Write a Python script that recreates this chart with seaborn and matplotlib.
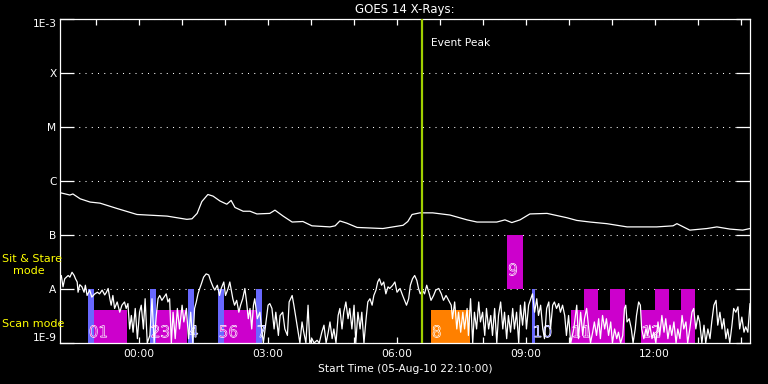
import numpy as np
import pandas as pd
import matplotlib
matplotlib.use("Agg")
import matplotlib.pyplot as plt
import matplotlib.patheffects as pe
from matplotlib.ticker import NullLocator
import seaborn as sns

# ---------------- data (time = hours since 05-Aug-10 22:10:00) ----------------
START = "2010-08-05 22:10:00"
END_HOURS = 16.05

# long channel (upper curve), log10 flux (W/m^2)
long_t = [0.02, 0.23, 0.30, 0.47, 0.70, 0.93, 1.33, 1.79, 2.49, 2.95, 3.07, 3.19, 3.30,
          3.44, 3.56, 3.72, 3.88, 3.98, 4.07, 4.26, 4.42, 4.58, 4.88, 5.00, 5.19, 5.40,
          5.65, 5.86, 6.28, 6.40, 6.51, 6.67, 6.91, 7.51, 7.98, 8.09, 8.19, 8.37, 8.67,
          9.07, 9.47, 9.70, 10.16, 10.35, 10.51, 10.70, 10.93, 11.33, 11.79, 12.02, 12.33,
          12.72, 13.19, 13.49, 13.88, 14.26, 14.35, 14.65, 15.05, 15.28, 15.58, 15.88, 16.05]
long_log = [-6.22, -6.26, -6.24, -6.33, -6.39, -6.41, -6.51, -6.62, -6.65, -6.71, -6.70, -6.60, -6.38,
            -6.25, -6.28, -6.37, -6.43, -6.36, -6.49, -6.56, -6.56, -6.61, -6.60, -6.54, -6.65, -6.76,
            -6.75, -6.83, -6.85, -6.83, -6.74, -6.78, -6.86, -6.88, -6.82, -6.75, -6.62, -6.59, -6.59,
            -6.63, -6.72, -6.76, -6.76, -6.72, -6.77, -6.72, -6.61, -6.60, -6.68, -6.73, -6.76,
            -6.79, -6.85, -6.85, -6.85, -6.83, -6.79, -6.91, -6.88, -6.85, -6.89, -6.91, -6.88]

# short channel (lower noisy curve), log10 flux
short_t = [
    0.03, 0.07, 0.11, 0.15, 0.19, 0.23, 0.28, 0.33, 0.36, 0.40,
    0.42, 0.46, 0.51, 0.56, 0.59, 0.63, 0.69, 0.74, 0.81, 0.87,
    0.92, 0.98, 1.04, 1.08, 1.12, 1.16, 1.19, 1.23, 1.27, 1.33,
    1.39, 1.44, 1.50, 1.54, 1.58, 1.62, 1.66, 1.70, 1.75, 1.80,
    1.85, 1.89, 1.94, 1.98, 2.03, 2.09, 2.14, 2.19, 2.24, 2.28,
    2.32, 2.37, 2.42, 2.47, 2.51, 2.55, 2.59, 2.63, 2.68, 2.73,
    2.78, 2.84, 2.88, 2.94, 2.99, 3.04, 3.09, 3.13, 3.17, 3.21,
    3.25, 3.29, 3.34, 3.40, 3.46, 3.50, 3.56, 3.60, 3.66, 3.71,
    3.75, 3.81, 3.85, 3.91, 3.95,
    4.02, 4.06, 4.11, 4.16, 4.20, 4.25, 4.30, 4.34, 4.38, 4.42,
    4.46, 4.50, 4.53, 4.59, 4.65, 4.69, 4.73, 4.79, 4.84, 4.88,
    4.93, 4.98, 5.02, 5.08, 5.12, 5.18, 5.23, 5.29, 5.33, 5.40,
    5.44, 5.49, 5.53, 5.58, 5.63, 5.67, 5.72, 5.77, 5.81, 5.86,
    5.91, 5.98, 6.03, 6.09, 6.14, 6.19, 6.24, 6.28, 6.33, 6.37,
    6.42, 6.47, 6.51, 6.56, 6.60, 6.65, 6.70, 6.74, 6.79, 6.84,
    6.88, 6.93, 6.98, 7.02, 7.07, 7.12, 7.16, 7.21, 7.26, 7.30,
    7.35, 7.39, 7.43, 7.48, 7.53, 7.58, 7.63, 7.67, 7.74, 7.79,
    7.84, 7.91, 7.97,
    8.06, 8.11, 8.15, 8.20, 8.25, 8.30, 8.34,
    8.38, 8.43, 8.48, 8.53, 8.59, 8.63, 8.69, 8.74, 8.81, 8.87,
    8.92, 8.98, 9.04, 9.10, 9.13, 9.18, 9.23, 9.27, 9.32, 9.37,
    9.41, 9.47, 9.50, 9.55, 9.60, 9.64, 9.69, 9.74, 9.78, 9.83,
    9.88, 9.92, 9.97, 10.02, 10.06, 10.11, 10.16, 10.20, 10.25, 10.30,
    10.34, 10.39, 10.43, 10.48, 10.53, 10.57, 10.62, 10.67, 10.71, 10.76,
    10.81, 10.85, 10.90, 10.95, 10.99, 11.04, 11.09, 11.13, 11.18, 11.23,
    11.27, 11.32, 11.37, 11.41, 11.46, 11.50, 11.55, 11.60, 11.64, 11.69,
    11.74, 11.78, 11.83, 11.88,
    11.95, 12.02, 12.06, 12.11, 12.16, 12.20, 12.25, 12.30, 12.34, 12.39,
    12.43, 12.48, 12.53, 12.57, 12.62, 12.67, 12.71, 12.76, 12.81, 12.85,
    12.90, 12.95, 12.99, 13.04, 13.09, 13.13, 13.16, 13.19, 13.24, 13.29,
    13.33, 13.38, 13.41, 13.46, 13.50, 13.53, 13.58, 13.63, 13.67, 13.72,
    13.77, 13.81, 13.86, 13.91, 13.95, 14.00, 14.05, 14.09, 14.14, 14.19,
    14.23, 14.28, 14.33, 14.37, 14.42, 14.47, 14.51, 14.56, 14.60, 14.65,
    14.70, 14.74, 14.79, 14.84, 14.88, 14.93, 14.98, 15.02, 15.07, 15.12,
    15.16, 15.21, 15.26, 15.30, 15.35, 15.40, 15.44, 15.49, 15.53, 15.58,
    15.63, 15.67, 15.72, 15.77, 15.81, 15.86, 15.91, 15.95, 16.00, 16.05]
short_log = [
    -7.75, -7.96, -7.81, -7.78, -7.75, -7.78, -7.69, -7.75, -7.81, -7.87,
    -8.06, -7.92, -7.96, -8.06, -7.93, -8.12, -8.02, -8.15, -8.09, -8.06,
    -8.09, -8.02, -8.11, -8.06, -7.99, -8.18, -8.30, -8.12, -8.36, -8.24,
    -8.43, -8.30, -8.24, -8.36, -8.27, -8.74, -8.49, -8.80, -8.36, -8.92,
    -8.43, -8.30, -8.74, -8.18, -9.00, -8.86, -8.18, -9.00, -8.49, -8.18,
    -8.12, -8.21, -8.15, -8.09, -8.24, -8.18, -9.00, -8.43, -8.92, -8.36,
    -8.74, -8.30, -8.61, -8.36, -8.92, -8.43, -9.00, -8.36, -8.24, -8.09,
    -7.99, -7.90, -7.78, -7.72, -7.74, -7.84, -7.96, -8.02, -7.93, -8.12,
    -7.99, -7.87, -8.12, -7.99, -7.87,
    -8.18, -8.30, -8.21, -8.43, -8.30, -8.18, -7.99, -8.24, -8.55, -8.36,
    -8.74, -8.30, -8.18, -8.55, -8.43, -8.74, -9.00, -8.61, -8.30, -8.27,
    -8.36, -8.74, -8.43, -8.86, -8.49, -8.43, -8.74, -8.86, -8.24, -8.12,
    -8.30, -8.55, -8.74, -9.00, -8.61, -8.80, -9.00, -8.30, -9.00, -8.92,
    -9.00, -8.95, -9.00, -8.80, -8.67, -9.00, -8.80, -8.61, -8.92, -8.74,
    -9.00, -8.49, -8.36, -8.74, -8.43, -8.24, -8.55, -8.36, -8.74, -8.30,
    -9.00, -8.43, -8.74, -8.43, -9.00, -8.55, -8.24, -8.18, -8.30, -8.12,
    -8.02, -7.87, -7.81, -7.93, -7.87, -8.09, -7.96, -7.99, -7.93, -7.87,
    -8.06, -7.99, -8.12,
    -8.30, -8.18, -7.93, -7.81, -7.75, -7.84, -7.99,
    -8.09, -8.02, -8.09, -7.93, -8.09, -8.21, -8.12, -8.02, -7.99, -8.09,
    -8.21, -8.12, -8.21, -8.30, -8.55, -8.24, -8.74, -8.43, -8.80, -8.43,
    -8.74, -8.36, -8.86, -8.18, -9.00, -8.43, -8.74, -8.24, -8.61, -8.43,
    -8.86, -8.36, -8.74, -8.49, -8.86, -8.36, -9.00, -8.49, -8.24, -8.74,
    -8.43, -8.92, -8.49, -8.80, -8.36, -8.74, -8.43, -9.00, -8.30, -8.67,
    -8.24, -8.74, -8.30, -8.18, -8.09, -8.43, -8.18, -8.49, -8.30, -8.74,
    -8.92, -8.36, -8.24, -8.74, -8.30, -8.24, -8.36, -8.27, -8.43, -8.30,
    -8.49, -8.86, -8.49, -9.00,
    -8.74, -8.30, -8.92, -8.43, -8.86, -8.55, -8.36, -8.74, -9.00, -8.80,
    -8.61, -8.86, -8.55, -8.92, -8.49, -8.74, -8.55, -8.86, -8.61, -9.00,
    -8.74, -8.92, -8.80, -9.00, -8.86, -8.36, -8.30, -8.61, -8.55, -8.74,
    -9.00, -8.74, -8.49, -8.24, -8.30, -8.74, -8.92, -8.74, -8.86, -8.67,
    -8.92, -8.80, -9.00, -8.61, -8.86, -8.49, -8.80, -8.55, -8.92, -8.67,
    -8.86, -8.61, -9.00, -8.74, -8.92, -8.49, -8.74, -8.61, -9.00, -8.74,
    -8.43, -8.36, -8.74, -8.49, -8.61, -9.00, -8.67, -9.00, -8.74, -8.92,
    -8.61, -8.30, -8.21, -8.67, -8.43, -8.74, -8.55, -8.92, -8.74, -9.00,
    -8.67, -8.36, -8.43, -8.33, -8.74, -8.52, -8.80, -8.70, -8.80, -8.27]
assert len(short_t) == len(short_log) and len(long_t) == len(long_log)

# observation events
event_start = [0.65, 0.78, 2.09, 2.23, 2.98, 3.67, 3.81, 4.56, 8.63, 10.40, 10.98,
               11.88, 12.19, 12.79, 13.51, 13.84, 14.44]
event_end = [0.78, 1.56, 2.23, 2.95, 3.12, 3.81, 4.56, 4.70, 9.53, 10.77, 11.05,
             13.14, 12.51, 13.14, 14.77, 14.16, 14.77]
event_mode = ["hi", "scan", "hi", "scan", "hi", "hi", "scan", "hi", "scan", "stare", "hi",
              "scan", "hi", "hi", "scan", "hi", "hi"]
event_kind = ["blue", "mag", "blue", "mag", "blue", "blue", "mag", "blue", "orange", "mag", "blue",
              "mag", "mag", "mag", "mag", "mag", "mag"]
event_label = ["0", "1", "2", "3", "4", "5", "6", "7", "8", "9", "10",
               "11", "", "", "12", "", ""]
peak_t = 8.42

y_ticks = [1e-9, 1e-8, 1e-7, 1e-6, 1e-5, 1e-4, 1e-3]
y_labels = ["1E-9", "A", "B", "C", "M", "X", "1E-3"]

# ---------------- styling ----------------
sns.set_theme(style="dark")
plt.rcParams["font.family"] = ["DejaVu Sans"]
W, H = 768, 384
fig = plt.figure(figsize=(W / 100, H / 100), dpi=100, facecolor="black")
ax = fig.add_axes([60 / W, 41 / H, 690 / W, 324 / H])
ax.set_facecolor("black")

colors = {"blue": "#6868ff", "mag": "#cc00cc", "orange": "#ff8000"}
mode_range = {"hi": (1e-9, 1e-8), "scan": (1e-9, 10 ** -8.39), "stare": (1e-8, 1e-7)}

ax.set_yscale("log")
for s, e, m, k in zip(event_start, event_end, event_mode, event_kind):
    lo, hi = mode_range[m]
    ax.bar(s, hi - lo, width=e - s, bottom=lo, align="edge", color=colors[k],
           linewidth=0, zorder=1)

# event numbers: labels of events starting very close together share one text
groups = []
for s, m, k, lab in zip(event_start, event_mode, event_kind, event_label):
    if not lab:
        continue
    if groups and s - groups[-1][0] < 0.2 and groups[-1][1] == ("stare" if m == "stare" else "low"):
        groups[-1][3] += lab
        groups[-1][2] = k
    else:
        groups.append([s, "stare" if m == "stare" else "low", k, lab])
for s, lvl, k, lab in groups:
    yb = 1.6e-8 if lvl == "stare" else 1.14e-9
    ax.text(s + 0.02, yb, lab, color=colors[k], fontsize=11, ha="left", va="bottom",
            zorder=2, fontweight="light",
            path_effects=[pe.Stroke(linewidth=0.9, foreground="white"), pe.Normal()])

df_long = pd.DataFrame({"t": long_t, "flux": 10 ** np.array(long_log)})
df_short = pd.DataFrame({"t": short_t, "flux": 10 ** np.array(short_log)})
sns.lineplot(data=df_long, x="t", y="flux", ax=ax, color="white", lw=0.9,
             estimator=None, sort=False, zorder=3)
sns.lineplot(data=df_short, x="t", y="flux", ax=ax, color="white", lw=0.9,
             estimator=None, sort=False, zorder=3)

ax.axvline(peak_t, color="#a0d000", lw=1.6, zorder=4)
ax.annotate("Event Peak", xy=(peak_t, 1), xycoords=("data", "axes fraction"),
            xytext=(6.5, -17.5), textcoords="offset points", color="white",
            fontsize=7.7, ha="left", va="center")

ax.set_xlim(0, END_HOURS)
ax.set_ylim(1e-9, 1e-3)
ax.set_xlabel("")
ax.set_ylabel("")

# x ticks every hour, labels every 3 hours
start = pd.Timestamp(START)
tick_times = pd.date_range("2010-08-05 23:00", periods=16, freq="h")
tick_pos = [(t - start) / pd.Timedelta(hours=1) for t in tick_times]
tick_lab = [t.strftime("%H:%M") if t.hour % 3 == 0 else "" for t in tick_times]
ax.set_xticks(tick_pos)
ax.set_xticklabels(tick_lab)

ax.set_yticks(y_ticks)
ax.set_yticklabels(y_labels)
ax.yaxis.set_minor_locator(NullLocator())
ax.xaxis.set_minor_locator(NullLocator())
tl = ax.get_yticklabels()
tl[0].set_va("bottom")
tl[-1].set_va("top")

ax.tick_params(axis="y", which="major", direction="in", length=10, width=0.9,
               colors="white", left=True, right=True, labelsize=7.7, pad=2.5)
ax.tick_params(axis="x", which="major", direction="in", length=4.5, width=0.9,
               colors="white", top=True, bottom=True, labelsize=7.7, pad=4)

ax.grid(False)
ax.grid(axis="y", which="major", color="white", linestyle=(0, (1, 5)), linewidth=0.75)
for sp in ax.spines.values():
    sp.set_color("white")
    sp.set_linewidth(0.9)
    sp.set_visible(True)

fig.text(405 / W, 1 - 9 / H, "GOES 14 X-Rays:", color="white", fontsize=8.5,
         ha="center", va="center")
fig.text(405 / W, 1 - 369 / H, "Start Time (05-Aug-10 22:10:00)", color="white",
         fontsize=7.7, ha="center", va="center")
fig.text(2 / W, 1 - 259 / H, "Sit & Stare", color="#ffff00", fontsize=8,
         ha="left", va="center")
fig.text(13 / W, 1 - 271 / H, "mode", color="#ffff00", fontsize=8,
         ha="left", va="center")
fig.text(2 / W, 1 - 324 / H, "Scan mode", color="#ffff00", fontsize=8,
         ha="left", va="center")

fig.savefig("out.png", dpi=100, facecolor="black")
